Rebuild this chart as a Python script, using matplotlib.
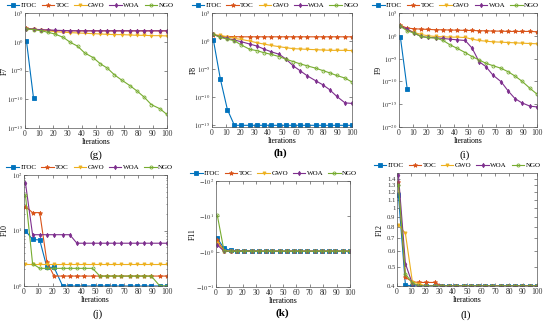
import numpy as np
import matplotlib
matplotlib.use('Agg')
import matplotlib.pyplot as plt
from matplotlib.ticker import FixedLocator, FixedFormatter, NullLocator

plt.rcParams['font.family'] = 'Liberation Serif'
plt.rcParams['mathtext.fontset'] = 'stix'

names = ['ITOC', 'TOC', 'GWO', 'WOA', 'NGO']
colors = ['#0072BD', '#D95319', '#EDB120', '#7E2F8E', '#77AC30']
markers = ['s', '*', 'v', 'd', 'o']
iters = [1, 6, 11, 16, 21, 27, 32, 37, 42, 48, 53, 58, 63, 68, 74, 79, 84, 89, 95, 100]

# F7, F8, F9: log10 of best fitness
f7 = {
    'ITOC': [0.18, -9.8],
    'TOC': [2.35, 2.15, 2.05, 2.0, 1.95, 1.9, 1.9, 1.9, 1.9, 1.9, 1.9, 1.9, 1.9, 1.9, 1.9, 1.9, 1.9, 1.9, 1.9, 1.9],
    'GWO': [2.2, 2.15, 2.05, 1.94, 1.76, 1.65, 1.59, 1.53, 1.47, 1.41, 1.35, 1.29, 1.24, 1.24, 1.18, 1.12, 1.12, 1.06, 1.06, 1.0],
    'WOA': [2.3, 2.2, 2.1, 2.05, 2.0, 1.95, 1.92, 1.9, 1.9, 1.9, 1.9, 1.9, 1.9, 1.9, 1.9, 1.9, 1.9, 1.9, 1.9, 1.9],
    'NGO': [2.24, 2.12, 1.94, 1.65, 1.35, 0.76, -0.12, -0.76, -1.94, -2.76, -3.82, -4.59, -5.76, -6.65, -7.65, -8.59, -9.65, -10.94, -11.65, -12.65],
}
f8 = {
    'ITOC': [0.18, -6.8, -12.2, -15, -15, -15, -15, -15, -15, -15, -15, -15, -15, -15, -15, -15, -15, -15, -15, -15],
    'TOC': [1.1, 0.85, 0.8, 0.78, 0.76, 0.76, 0.76, 0.76, 0.76, 0.76, 0.76, 0.76, 0.76, 0.76, 0.76, 0.76, 0.76, 0.76, 0.76, 0.76],
    'GWO': [1.18, 1.0, 0.76, 0.47, 0.29, 0.0, -0.29, -0.53, -0.76, -1.0, -1.18, -1.35, -1.41, -1.47, -1.53, -1.59, -1.65, -1.65, -1.65, -1.7],
    'WOA': [1.18, 0.76, 0.47, 0.18, -0.12, -0.53, -0.88, -1.41, -1.88, -2.35, -3.24, -4.41, -5.29, -6.18, -7.06, -7.76, -8.65, -9.82, -11.0, -11.1],
    'NGO': [1.18, 0.65, 0.35, 0.06, -0.71, -1.47, -1.7, -2.06, -2.35, -2.76, -3.24, -3.65, -4.06, -4.41, -4.82, -5.24, -5.65, -6.12, -6.59, -7.29],
}
f9 = {
    'ITOC': [-0.29, -11.76],
    'TOC': [2.28, 1.69, 1.54, 1.47, 1.4, 1.32, 1.32, 1.25, 1.25, 1.18, 1.18, 1.1, 1.1, 1.03, 1.03, 0.96, 0.96, 0.96, 0.96, 0.88],
    'GWO': [2.06, 1.32, 0.74, 0.29, 0.0, -0.15, -0.22, -0.29, -0.29, -0.37, -0.74, -1.03, -1.18, -1.32, -1.4, -1.47, -1.54, -1.62, -1.69, -1.76],
    'WOA': [2.06, 1.47, 0.59, -0.15, -0.37, -0.44, -0.59, -0.74, -0.88, -1.03, -2.72, -5.66, -6.76, -8.6, -10.07, -12.06, -13.75, -14.7, -15.44, -15.59],
    'NGO': [2.06, 1.1, 0.59, -0.15, -0.37, -0.51, -1.03, -1.99, -2.72, -3.68, -4.56, -5.29, -6.03, -6.54, -7.13, -7.87, -8.82, -9.93, -11.54, -12.79],
}
# F10, F12: best fitness
f10 = {
    'ITOC': [9.9, 6.9, 6.75, 2.17, 2.17, 1, 1, 1, 1, 1, 1, 1, 1, 1, 1, 1, 1, 1, 1, 1],
    'TOC': [27, 21, 21, 2.74, 1.51, 1.51, 1.51, 1.51, 1.51, 1.51, 1.51, 1.51, 1.51, 1.51, 1.51, 1.51, 1.51, 1.51, 1.51, 1.51],
    'GWO': [2.53, 2.53, 2.53, 2.53, 2.53, 2.53, 2.53, 2.53, 2.53, 2.53, 2.53, 2.53, 2.53, 2.53, 2.53, 2.53, 2.53, 2.53, 2.53, 2.53],
    'WOA': [72.7, 8.4, 8.4, 8.4, 8.4, 8.4, 8.4, 5.9, 5.9, 5.9, 5.9, 5.9, 5.9, 5.9, 5.9, 5.9, 5.9, 5.9, 5.9, 5.9],
    'NGO': [43.6, 2.53, 2.08, 2.08, 2.08, 2.08, 2.08, 2.08, 2.08, 2.08, 1.51, 1.51, 1.51, 1.51, 1.51, 1.51, 1.51, 1.51, 1.0, 1.0],
}
# F11: best fitness (negative)
f11 = {
    'ITOC': [-2.4, -1.23, -1.09, -1.07, -1.07, -1.07, -1.03, -1.03, -1.03, -1.03, -1.03, -1.03, -1.03, -1.03, -1.03, -1.03, -1.03, -1.03, -1.03, -1.03],
    'TOC': [-2.1, -1.04, -1.03, -1.03, -1.03, -1.03, -1.03, -1.03, -1.03, -1.03, -1.03, -1.03, -1.03, -1.03, -1.03, -1.03, -1.03, -1.03, -1.03, -1.03],
    'GWO': [-1.8, -1.04, -1.03, -1.03, -1.03, -1.03, -1.03, -1.03, -1.03, -1.03, -1.03, -1.03, -1.03, -1.03, -1.03, -1.03, -1.03, -1.03, -1.03, -1.03],
    'WOA': [-1.55, -1.03, -1.03, -1.03, -1.03, -1.03, -1.03, -1.03, -1.03, -1.03, -1.03, -1.03, -1.03, -1.03, -1.03, -1.03, -1.03, -1.03, -1.03, -1.03],
    'NGO': [-10.6, -1.05, -1.03, -1.03, -1.03, -1.03, -1.03, -1.03, -1.03, -1.03, -1.03, -1.03, -1.03, -1.03, -1.03, -1.03, -1.03, -1.03, -1.03, -1.03],
}
f12 = {
    'ITOC': [1.16, 0.405, 0.4, 0.4, 0.4, 0.4, 0.4, 0.4, 0.4, 0.4, 0.4, 0.4, 0.4, 0.4, 0.4, 0.4, 0.4, 0.4, 0.4, 0.4],
    'TOC': [1.35, 0.443, 0.42, 0.417, 0.417, 0.417, 0.4, 0.4, 0.4, 0.4, 0.4, 0.4, 0.4, 0.4, 0.4, 0.4, 0.4, 0.4, 0.4, 0.4],
    'GWO': [0.82, 0.74, 0.42, 0.41, 0.4, 0.4, 0.4, 0.4, 0.4, 0.4, 0.4, 0.4, 0.4, 0.4, 0.4, 0.4, 0.4, 0.4, 0.4, 0.4],
    'WOA': [1.47, 0.52, 0.41, 0.4, 0.4, 0.4, 0.4, 0.4, 0.4, 0.4, 0.4, 0.4, 0.4, 0.4, 0.4, 0.4, 0.4, 0.4, 0.4, 0.4],
    'NGO': [1.31, 0.46, 0.415, 0.4, 0.4, 0.4, 0.4, 0.4, 0.4, 0.4, 0.4, 0.4, 0.4, 0.4, 0.4, 0.4, 0.4, 0.4, 0.4, 0.4],
}

W, H = 550.0, 324.0
def pos(l, r, t, b):
    return [l / W, 1 - b / H, (r - l) / W, (b - t) / H]

fig = plt.figure(figsize=(5.5, 3.24), dpi=100)
fs = 5.5

def style(ax, ylabel, ylx, legx):
    ax.set_xlim(0, 100)
    ax.set_xticks(np.arange(0, 101, 10))
    ax.tick_params(direction='in', which='both', top=True, right=True, labelsize=fs,
                   length=2, width=0.4, pad=1.2, colors='#333333')
    ax.tick_params(axis='y', labelsize=4.8, pad=1)
    ax.tick_params(which='minor', length=1)
    for s in ax.spines.values():
        s.set_linewidth(0.5)
        s.set_color('#555555')
    ax.set_xlabel('Iterations', fontsize=fs, labelpad=0.5)
    ax.set_ylabel(ylabel, fontsize=fs)
    ax.yaxis.set_label_coords(ylx, 0.5)
    ax.legend(loc='lower center', bbox_to_anchor=(legx, 1.0), ncol=5, frameon=False,
              fontsize=5, handlelength=1.8, columnspacing=0.7, handletextpad=0.2,
              borderaxespad=0.3)

def draw(ax, data, trans=None):
    for n, c, m in zip(names, colors, markers):
        y = np.array(data[n], dtype=float)
        if trans is not None:
            y = trans(y)
        face = 'none' if m == 'o' else c
        ms = 3.2 if m == '*' else 2.2
        ax.plot(iters[:len(y)], y, color=c, marker=m, markersize=ms, markerfacecolor=face,
                markeredgewidth=0.6, linewidth=0.8, label=n)

def logticks(ax, exps):
    ax.yaxis.set_major_locator(FixedLocator([10.0 ** e for e in exps]))
    ax.yaxis.set_major_formatter(FixedFormatter(['$10^{%d}$' % e for e in exps]))
    ax.yaxis.set_minor_locator(NullLocator())

# (g) F7
ax = fig.add_axes(pos(25, 167, 13, 128))
ax.set_yscale('log')
draw(ax, f7, lambda v: 10 ** v)
ax.set_ylim(1e-15, 1e5)
logticks(ax, [-15, -10, -5, 0, 5])
style(ax, 'F7', -0.115, 0.46)

# (h) F8
ax = fig.add_axes(pos(212, 352, 13, 127))
ax.set_yscale('log')
draw(ax, f8, lambda v: 10 ** v)
ax.set_ylim(10 ** -15.3, 1e5)
logticks(ax, [-15, -10, -5, 0, 5])
style(ax, 'F8', -0.1, 0.45)

# (i) F9
ax = fig.add_axes(pos(399, 537, 13, 127))
ax.set_yscale('log')
draw(ax, f9, lambda v: 10 ** v)
ax.set_ylim(1e-20, 1e5)
logticks(ax, [-20, -15, -10, -5, 0, 5])
style(ax, 'F9', -0.115, 0.41)

# (j) F10
ax = fig.add_axes(pos(24, 167, 175, 286))
ax.set_yscale('log')
draw(ax, f10)
ax.set_ylim(1, 100)
ax.yaxis.set_major_locator(FixedLocator([1, 10, 100]))
ax.yaxis.set_major_formatter(FixedFormatter(['$10^{0}$', '$10^{1}$', '$10^{2}$']))
style(ax, 'F10', -0.105, 0.46)

# (k) F11 (negative values on reversed log axis)
ax = fig.add_axes(pos(216, 350, 181, 287))
ax.set_yscale('log')
draw(ax, f11, lambda v: -v)
ax.set_ylim(0.1, 100)
ax.yaxis.set_major_locator(FixedLocator([0.1, 1, 10, 100]))
ax.yaxis.set_major_formatter(FixedFormatter(['$-10^{-1}$', '$-10^{0}$', '$-10^{1}$', '$-10^{2}$']))
ax.yaxis.set_minor_locator(NullLocator())
style(ax, 'F11', -0.14, 0.43)

# (l) F12
ax = fig.add_axes(pos(397, 537, 173, 286))
ax.set_yscale('log')
draw(ax, f12)
ax.set_ylim(0.4, 1.5)
lt = [0.4, 0.5, 0.6, 0.7, 0.8, 0.9, 1.0, 1.1, 1.2, 1.3, 1.4]
ax.yaxis.set_major_locator(FixedLocator(lt))
ax.yaxis.set_major_formatter(FixedFormatter(['0.4', '0.5', '0.6', '0.7', '0.8', '0.9', '1', '1.1', '1.2', '1.3', '1.4']))
ax.yaxis.set_minor_locator(NullLocator())
style(ax, 'F12', -0.093, 0.43)

fig.text(96 / W, 1 - 155 / H, '(g)', fontsize=8, ha='center', va='center')
fig.text(280 / W, 1 - 153 / H, '(h)', fontsize=8, ha='center', va='center', fontweight='bold')
fig.text(465 / W, 1 - 155 / H, '(i)', fontsize=8, ha='center', va='center')
fig.text(98 / W, 1 - 314 / H, '(j)', fontsize=8, ha='center', va='center')
fig.text(282 / W, 1 - 313 / H, '(k)', fontsize=8, ha='center', va='center', fontweight='bold')
fig.text(466 / W, 1 - 315 / H, '(l)', fontsize=8, ha='center', va='center')

fig.savefig('out.png', dpi=100)
